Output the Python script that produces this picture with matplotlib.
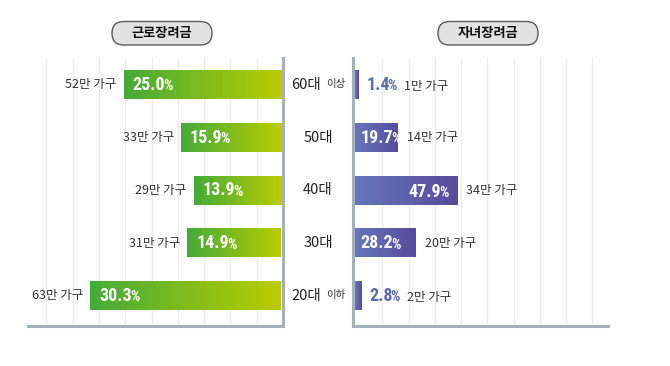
import numpy as np
import matplotlib
matplotlib.use("Agg")
import matplotlib.pyplot as plt
from matplotlib.patches import FancyBboxPatch
from matplotlib.colors import LinearSegmentedColormap

plt.rcParams['font.family'] = ['Noto Sans CJK KR', 'DejaVu Sans']

# ---- data ----
ages = ['60대', '50대', '40대', '30대', '20대']
age_suffix = ['이상', '', '', '', '이하']
work_pct = [25.0, 15.9, 13.9, 14.9, 30.3]
work_households = [52, 33, 29, 31, 63]
child_pct = [1.4, 19.7, 47.9, 28.2, 2.8]
child_households = [1, 14, 34, 20, 2]
titles = ['근로장려금', '자녀장려금']

W, H = 670, 366
fig = plt.figure(figsize=(W / 100, H / 100), dpi=100)
fig.patch.set_facecolor('white')

def px_rect(x0, x1, ytop, ybot):
    return [x0 / W, 1 - ybot / H, (x1 - x0) / W, (ybot - ytop) / H]

axL = fig.add_axes(px_rect(28, 283, 58, 326))
axR = fig.add_axes(px_rect(353, 608, 58, 326))

green_cmap = LinearSegmentedColormap.from_list('g', ['#44ab39', '#bacd00'])
purple_cmap = LinearSegmentedColormap.from_list('p', ['#6677bb', '#584a9c'])
grad = np.linspace(0, 1, 256).reshape(1, -1)

spine_col = '#a3b1ba'
grid_col = '#ececec'
txt_col = '#333333'
bar_h = 0.54
n = len(ages)
ypos = np.arange(n)
ylim = (n - 1 + 30.3 / 52.7, -27 / 52.7)

for ax in (axL, axR):
    for s in ax.spines.values():
        s.set_visible(False)
    ax.set_xticks([])
    ax.set_yticks([])
    ax.set_facecolor('none')

# grid lines (pixel spacing ~26.3)
gL = [1 - k * 26.3 / 255 for k in range(1, 10)]
gR = [(29.3 + (k - 1) * 26.25) / 255 for k in range(1, 10)]
axL.vlines(gL, 0, 1, transform=axL.transAxes, color=grid_col, lw=1, zorder=0)
axR.vlines(gR, 0, 1, transform=axR.transAxes, color=grid_col, lw=1, zorder=0)

# left panel bars (reversed x)
for y, v in zip(ypos, work_pct):
    axL.imshow(grad, cmap=green_cmap, extent=(v, 0, y + bar_h / 2, y - bar_h / 2),
               aspect='auto', zorder=2, interpolation='bilinear')
axL.set_xlim(40.2, -0.3)
axL.set_ylim(*ylim)

for y, v in zip(ypos, child_pct):
    axR.imshow(grad, cmap=purple_cmap, extent=(0, v, y + bar_h / 2, y - bar_h / 2),
               aspect='auto', zorder=2, interpolation='bilinear')
axR.set_xlim(-1.0, 117.6)
axR.set_ylim(*ylim)

# spines as lines
axL.plot([1, 1], [0, 1], transform=axL.transAxes, color=spine_col, lw=2.2, clip_on=False, zorder=3)
axL.plot([0, 1], [0, 0], transform=axL.transAxes, color=spine_col, lw=2.2, clip_on=False, zorder=3)
axR.plot([0, 0], [0, 1], transform=axR.transAxes, color=spine_col, lw=2.2, clip_on=False, zorder=3)
axR.plot([0, 1], [0, 0], transform=axR.transAxes, color=spine_col, lw=2.2, clip_on=False, zorder=3)

NUM_FAMILY = ['Roboto Condensed', 'Lato', 'Noto Sans CJK KR', 'DejaVu Sans']
NUM_FS = 13
PCT_FS = 10.5
LAB_FS = 9
pct_blue = '#5b6bb2'

def pct_text(ax, x, y, v, color, align='left', offset=0):
    num = f'{v:.1f}'
    kw = dict(fontweight='bold', color=color, zorder=4, family=NUM_FAMILY)
    if align == 'left':
        t1 = ax.annotate(num, xy=(x, y), xytext=(offset, 0), textcoords='offset pixels',
                         ha='left', va='center', fontsize=NUM_FS, **kw)
        t2 = ax.annotate('%', xy=(1, 0), xycoords=t1, xytext=(-2, 0.5),
                         textcoords='offset pixels', ha='left', va='bottom',
                         fontsize=PCT_FS, **kw)
        return t1, t2
    else:
        t2 = ax.annotate('%', xy=(x, y), xytext=(offset, -3), textcoords='offset pixels',
                         ha='right', va='center', fontsize=PCT_FS, **kw)
        t1 = ax.annotate(num, xy=(0, 0), xycoords=t2, xytext=(2, -0.5),
                         textcoords='offset pixels', ha='right', va='bottom',
                         fontsize=NUM_FS, **kw)
        return t1, t2

# left panel labels
for y, v, hh in zip(ypos, work_pct, work_households):
    pct_text(axL, v, y, v, 'white', 'left', offset=9)
    axL.annotate(f'{hh}만 가구', xy=(v, y), xytext=(-7, 0), textcoords='offset pixels',
                 ha='right', va='center', fontsize=LAB_FS, color=txt_col, zorder=4,
                 annotation_clip=False)

# right panel labels
for y, v, hh in zip(ypos, child_pct, child_households):
    lab = f'{hh}만 가구'
    if v < 10:
        t1, t2 = pct_text(axR, v, y, v, pct_blue, 'left', offset=8)
        axR.annotate(lab, xy=(1, 0.5), xycoords=t2, xytext=(7, -0.5), textcoords='offset pixels',
                     ha='left', va='center', fontsize=LAB_FS, color=txt_col, zorder=4)
    elif v > 40:
        pct_text(axR, v, y, v, 'white', 'right', offset=-10)
        axR.annotate(lab, xy=(v, y), xytext=(8, 0), textcoords='offset pixels',
                     ha='left', va='center', fontsize=LAB_FS, color=txt_col, zorder=4)
    else:
        pct_text(axR, 0, y, v, 'white', 'left', offset=5)
        axR.annotate(lab, xy=(v, y), xytext=(9, 0), textcoords='offset pixels',
                     ha='left', va='center', fontsize=LAB_FS, color=txt_col, zorder=4)

# center age labels
fig.canvas.draw()
renderer = fig.canvas.get_renderer()
cx = 318
for y, a, sfx in zip(ypos, ages, age_suffix):
    ydisp = axL.transData.transform((0, y))[1]
    yf = ydisp / H
    if sfx:
        t1 = fig.text(0, yf, a, ha='left', va='center', fontsize=10.5, color='#222222')
        t2 = fig.text(0, yf, sfx, ha='left', va='center', fontsize=7.5, color='#333333')
        w1 = t1.get_window_extent(renderer).width
        w2 = t2.get_window_extent(renderer).width
        gap = 5
        total = w1 + gap + w2
        x0 = cx - total / 2
        t1.set_x(x0 / W)
        t2.set_x((x0 + w1 + gap) / W)
        t2.set_y((ydisp + 0.5) / H)
    else:
        fig.text(cx / W, yf, a, ha='center', va='center', fontsize=10.5, color='#222222')

# title pills
for (x0, x1), title in zip([(112, 212), (438, 538)], titles):
    ytop, ybot = 21.5, 45
    h = (ybot - ytop) / 100
    box = FancyBboxPatch((x0 / 100, (H - ybot) / 100), (x1 - x0) / 100, h,
                         boxstyle=f'round,pad=0,rounding_size={h / 2}',
                         transform=fig.dpi_scale_trans, facecolor='#e2e2e2',
                         edgecolor='#5a5a5a', lw=1.0, zorder=5)
    fig.patches.append(box)
    fig.text((x0 + x1) / 2 / W, 1 - (ytop + ybot) / 2 / H, title, ha='center', va='center',
             fontsize=9.5, fontweight='bold', color='#111111', zorder=6)

fig.savefig('out.png', dpi=100, facecolor='white')
